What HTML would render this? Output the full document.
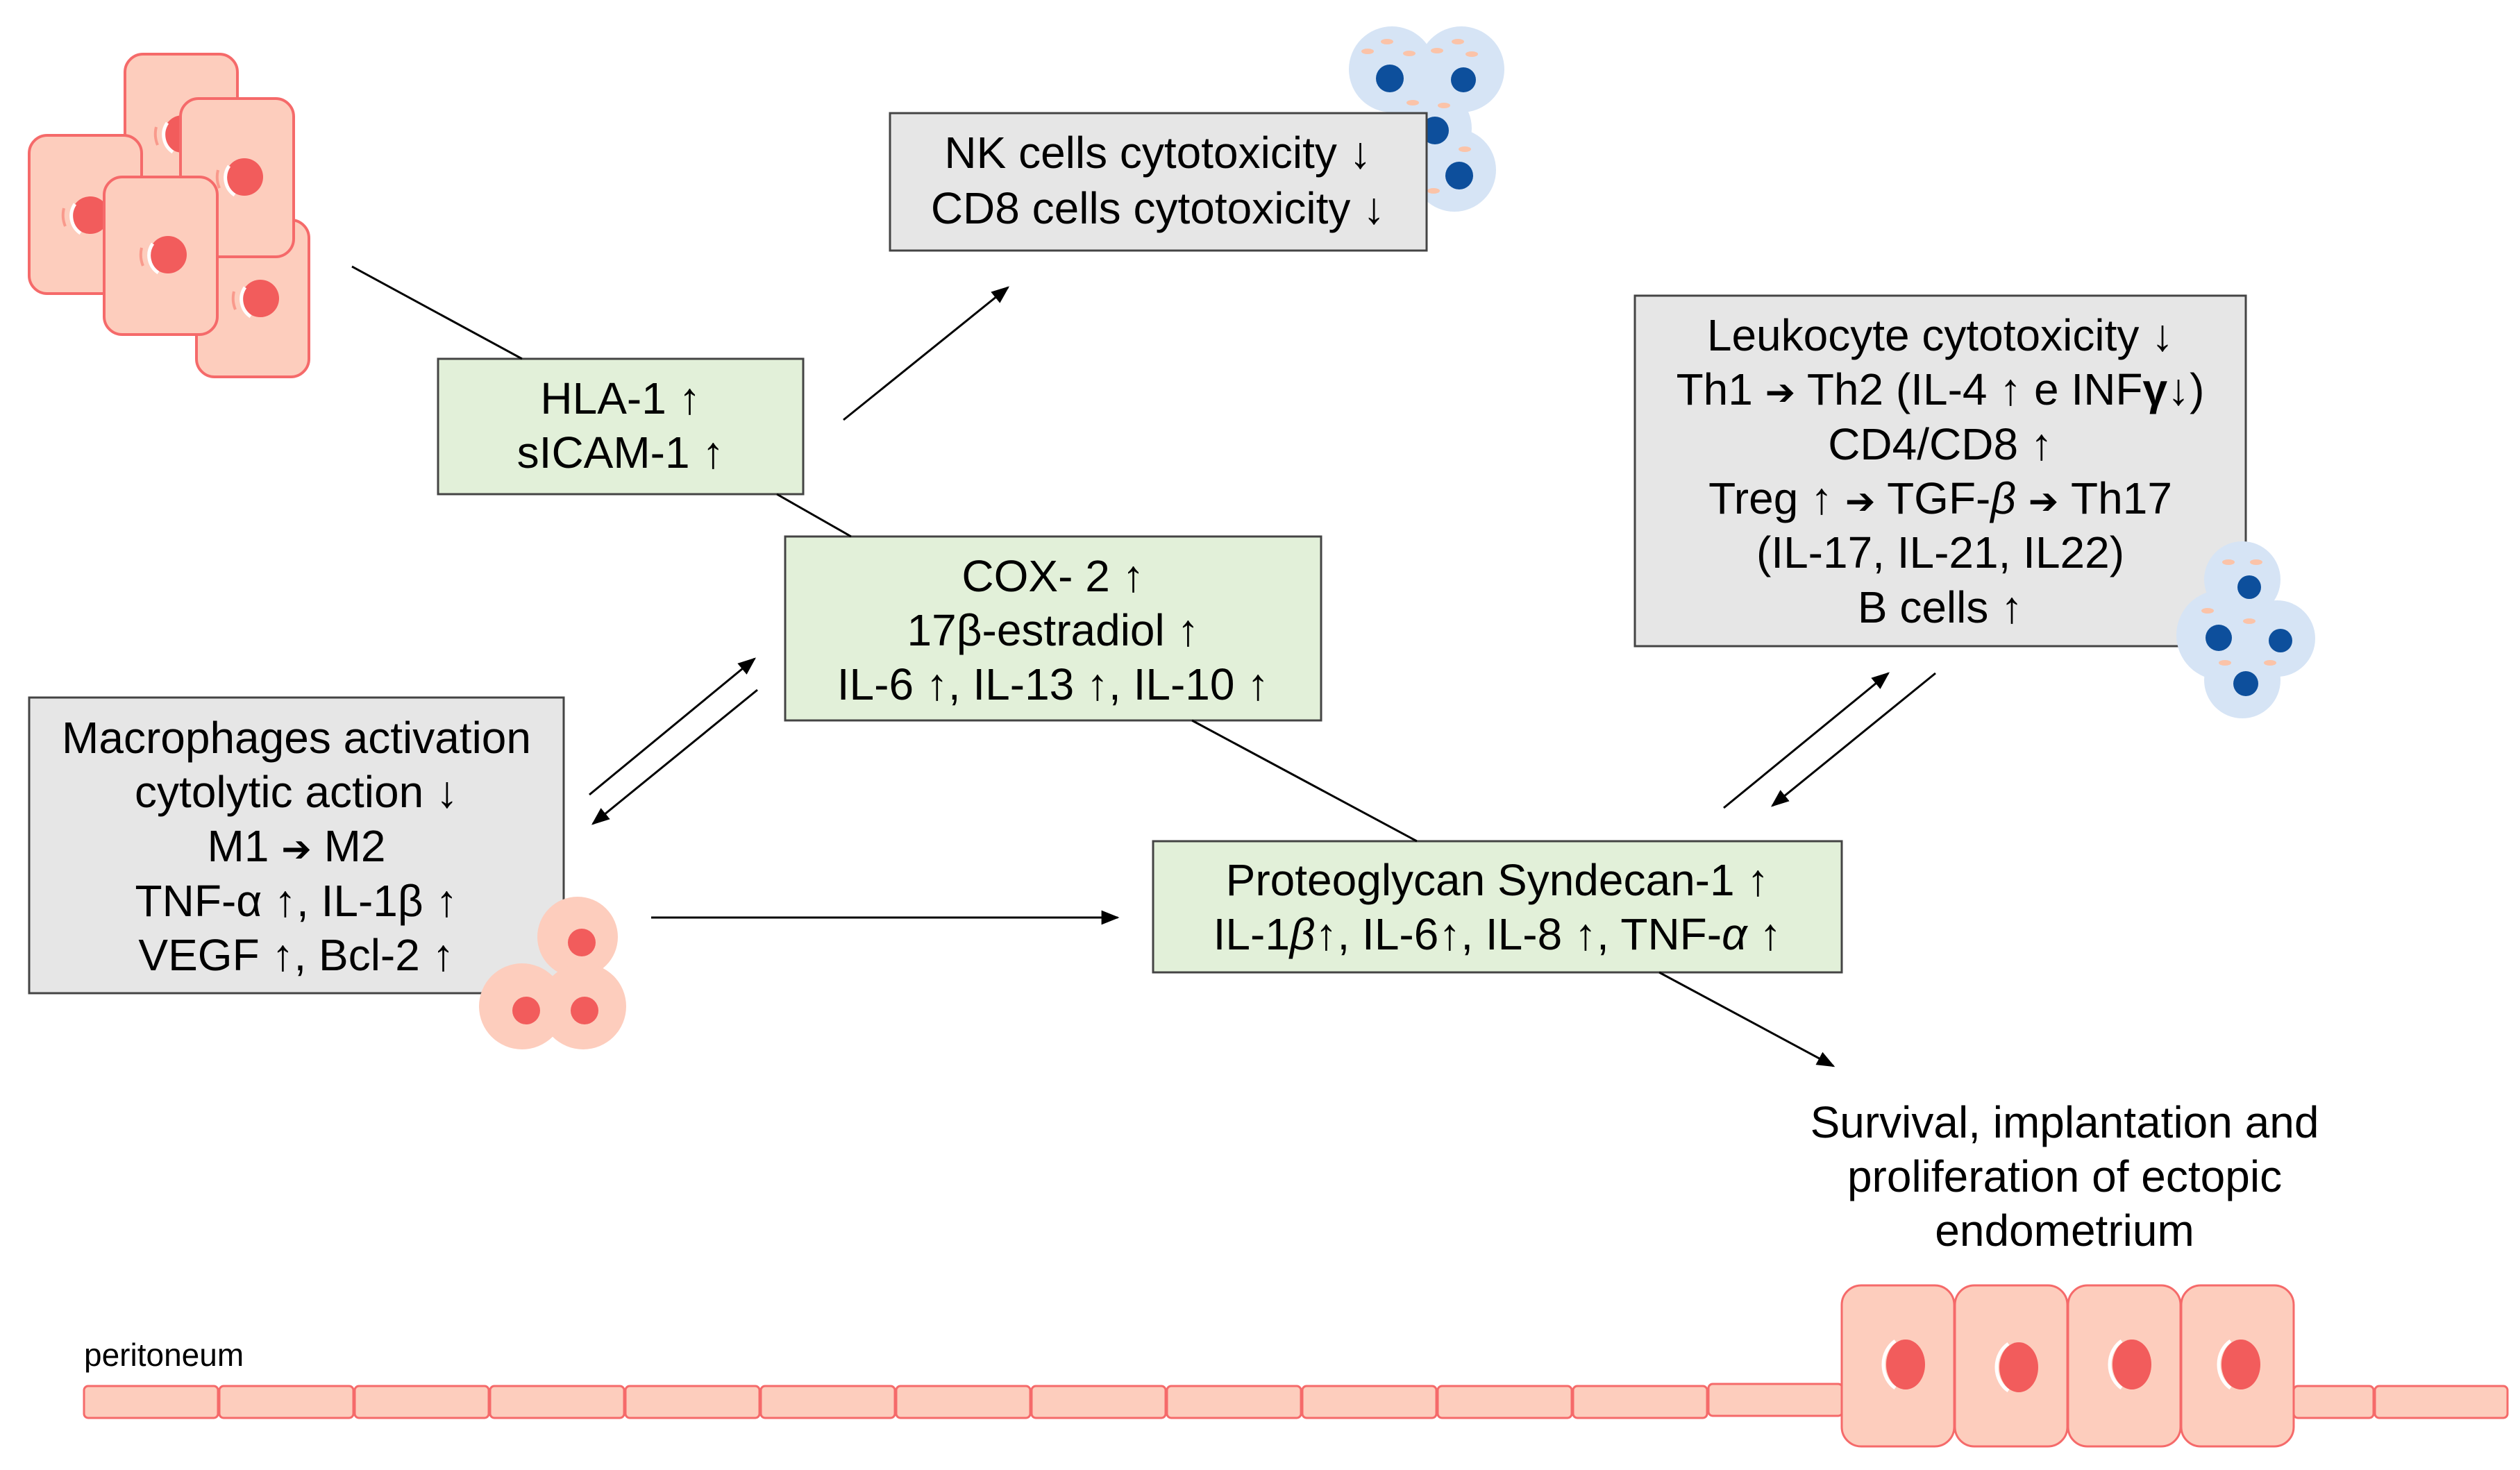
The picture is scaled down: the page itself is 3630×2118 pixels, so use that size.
<!DOCTYPE html>
<html><head><meta charset="utf-8"><style>
html,body{margin:0;padding:0;background:#fff}
svg{display:block}
text{font-family:"Liberation Sans",sans-serif;fill:#000}
.ar{font-family:"DejaVu Sans",sans-serif;font-size:52px}
</style></head><body>
<svg width="3630" height="2118" viewBox="0 0 3630 2118" xmlns="http://www.w3.org/2000/svg">
<defs>
<marker id="a" viewBox="0 0 10 10" refX="9" refY="5" markerWidth="26" markerHeight="26" markerUnits="userSpaceOnUse" orient="auto"><path d="M0,1 L10,5 L0,9 z" fill="#000"/></marker>
<g id="pc">
<circle r="27" fill="#f25c5c"/>
<path d="M-22,-16 A30,30 0 0 0 -14,26" stroke="#fff" stroke-width="5" fill="none"/>
<path d="M-38,-10 A42,42 0 0 0 -36,16" stroke="#f99a8c" stroke-width="4" fill="none"/>
</g>
</defs>

<g fill="#fdcdbd" stroke="#f56a6a" stroke-width="4">
<rect x="180" y="78" width="162" height="265" rx="26"/>
<rect x="42" y="195" width="162" height="228" rx="26"/>
<rect x="283" y="317" width="162" height="226" rx="26"/>
</g>
<use href="#pc" x="263" y="193"/><use href="#pc" x="130" y="310"/><use href="#pc" x="375" y="430"/>
<rect x="260" y="142" width="163" height="228" rx="26" fill="#fdcdbd" stroke="#f56a6a" stroke-width="4"/>
<use href="#pc" x="352" y="255"/>
<rect x="150" y="255" width="163" height="227" rx="26" fill="#fdcdbd" stroke="#f56a6a" stroke-width="4"/>
<use href="#pc" x="242" y="367"/>

<g fill="#d6e4f5">
<circle cx="2005" cy="100" r="62"/><circle cx="2105" cy="100" r="62"/>
<circle cx="2060" cy="185" r="60"/><circle cx="2095" cy="245" r="60"/>
</g>
<g fill="#0d4f9c"><circle cx="2002" cy="113" r="20"/><circle cx="2108" cy="115" r="18"/><circle cx="2067" cy="188" r="20"/><circle cx="2102" cy="253" r="20"/></g>
<g fill="#fbc3a8"><ellipse cx="1998" cy="60" rx="9" ry="4"/><ellipse cx="1970" cy="74" rx="9" ry="4"/><ellipse cx="2030" cy="77" rx="9" ry="4"/><ellipse cx="2100" cy="60" rx="9" ry="4"/><ellipse cx="2070" cy="73" rx="9" ry="4"/><ellipse cx="2120" cy="78" rx="9" ry="4"/><ellipse cx="2035" cy="148" rx="9" ry="4"/><ellipse cx="2080" cy="152" rx="9" ry="4"/><ellipse cx="2025" cy="175" rx="9" ry="4"/><ellipse cx="2110" cy="215" rx="9" ry="4"/><ellipse cx="2065" cy="275" rx="9" ry="4"/></g>

<rect x="1282" y="163" width="773" height="198" fill="#e6e6e6" stroke="#444" stroke-width="3"/>
<g font-size="64" text-anchor="middle">
<text x="1668" y="242">NK cells cytotoxicity ↓</text>
<text x="1668" y="322">CD8 cells cytotoxicity ↓</text>
</g>

<rect x="631" y="517" width="526" height="195" fill="#e2f0d9" stroke="#444" stroke-width="3"/>
<g font-size="64" text-anchor="middle">
<text x="894" y="596">HLA-1 ↑</text>
<text x="894" y="674">sICAM-1 ↑</text>
</g>

<rect x="1131" y="773" width="772" height="265" fill="#e2f0d9" stroke="#444" stroke-width="3"/>
<g font-size="64" text-anchor="middle">
<text x="1517" y="852">COX- 2 ↑</text>
<text x="1517" y="930">17β-estradiol ↑</text>
<text x="1517" y="1008">IL-6 ↑, IL-13 ↑, IL-10 ↑</text>
</g>

<rect x="42" y="1005" width="770" height="426" fill="#e6e6e6" stroke="#444" stroke-width="3"/>
<g font-size="64" text-anchor="middle">
<text x="427" y="1085">Macrophages activation</text>
<text x="427" y="1163">cytolytic action ↓</text>
<text x="427" y="1241">M1 <tspan class="ar">➔</tspan> M2</text>
<text x="427" y="1320">TNF-α ↑, IL-1β ↑</text>
<text x="427" y="1398">VEGF ↑, Bcl-2 ↑</text>
</g>

<rect x="2355" y="426" width="880" height="505" fill="#e6e6e6" stroke="#444" stroke-width="3"/>
<g font-size="64" text-anchor="middle">
<text x="2795" y="505">Leukocyte cytotoxicity ↓</text>
<text x="2795" y="583">Th1 <tspan class="ar">➔</tspan> Th2 (IL-4 ↑ e INF<tspan font-weight="bold">γ</tspan>↓)</text>
<text x="2795" y="662">CD4/CD8 ↑</text>
<text x="2795" y="740">Treg ↑ <tspan class="ar">➔</tspan> TGF-<tspan font-style="italic">β</tspan> <tspan class="ar">➔</tspan> Th17</text>
<text x="2795" y="818">(IL-17, IL-21, IL22)</text>
<text x="2795" y="897">B cells ↑</text>
</g>

<g fill="#d6e4f5"><circle cx="3230" cy="835" r="55"/><circle cx="3200" cy="915" r="65"/><circle cx="3280" cy="920" r="55"/><circle cx="3230" cy="980" r="55"/></g>
<g fill="#0d4f9c"><circle cx="3240" cy="846" r="17"/><circle cx="3196" cy="919" r="19"/><circle cx="3285" cy="923" r="17"/><circle cx="3235" cy="985" r="18"/></g>
<g fill="#fbc3a8"><ellipse cx="3210" cy="810" rx="9" ry="4"/><ellipse cx="3250" cy="810" rx="9" ry="4"/><ellipse cx="3180" cy="880" rx="9" ry="4"/><ellipse cx="3240" cy="895" rx="9" ry="4"/><ellipse cx="3270" cy="955" rx="9" ry="4"/><ellipse cx="3205" cy="955" rx="9" ry="4"/></g>

<rect x="1661" y="1212" width="992" height="189" fill="#e2f0d9" stroke="#444" stroke-width="3"/>
<g font-size="64" text-anchor="middle">
<text x="2157" y="1290">Proteoglycan Syndecan-1 ↑</text>
<text x="2157" y="1368">IL-1<tspan font-style="italic">β</tspan>↑, IL-6↑, IL-8 ↑, TNF-<tspan font-style="italic">α</tspan> ↑</text>
</g>

<g fill="#fdcdbd"><circle cx="832" cy="1350" r="58"/><circle cx="752" cy="1450" r="62"/><circle cx="840" cy="1450" r="62"/></g>
<circle cx="838" cy="1358" r="20" fill="#f25c5c"/><circle cx="758" cy="1456" r="20" fill="#f25c5c"/><circle cx="842" cy="1456" r="20" fill="#f25c5c"/>

<g stroke="#000" stroke-width="3" fill="none">
<line x1="507" y1="384" x2="752" y2="517"/>
<line x1="1119" y1="712" x2="1226" y2="773"/>
<line x1="1215" y1="605" x2="1452" y2="414" marker-end="url(#a)"/>
<line x1="849" y1="1145" x2="1087" y2="949" marker-end="url(#a)"/>
<line x1="1091" y1="994" x2="854" y2="1187" marker-end="url(#a)"/>
<line x1="1717" y1="1038" x2="2041" y2="1212"/>
<line x1="938" y1="1322" x2="1610" y2="1322" marker-end="url(#a)"/>
<line x1="2483" y1="1164" x2="2720" y2="970" marker-end="url(#a)"/>
<line x1="2788" y1="970" x2="2553" y2="1161" marker-end="url(#a)"/>
<line x1="2390" y1="1401" x2="2641" y2="1536" marker-end="url(#a)"/>
</g>

<g font-size="64" text-anchor="middle">
<text x="2974" y="1639">Survival, implantation and</text>
<text x="2974" y="1717">proliferation of ectopic</text>
<text x="2974" y="1795">endometrium</text>
</g>
<text x="121" y="1968" font-size="46">peritoneum</text>

<g fill="#fdcdbd" stroke="#f56a6a" stroke-width="3">
<rect x="121" y="1997" width="193" height="46" rx="6"/>
<rect x="316" y="1997" width="193" height="46" rx="6"/>
<rect x="511" y="1997" width="193" height="46" rx="6"/>
<rect x="706" y="1997" width="193" height="46" rx="6"/>
<rect x="901" y="1997" width="193" height="46" rx="6"/>
<rect x="1096" y="1997" width="193" height="46" rx="6"/>
<rect x="1291" y="1997" width="193" height="46" rx="6"/>
<rect x="1486" y="1997" width="193" height="46" rx="6"/>
<rect x="1681" y="1997" width="193" height="46" rx="6"/>
<rect x="1876" y="1997" width="193" height="46" rx="6"/>
<rect x="2071" y="1997" width="193" height="46" rx="6"/>
<rect x="2266" y="1997" width="193" height="46" rx="6"/>
<rect x="2461" y="1994" width="193" height="46" rx="6"/>
<rect x="3304" y="1997" width="115" height="46" rx="6"/>
<rect x="3421" y="1997" width="191" height="46" rx="6"/>
<rect x="2653" y="1852" width="162" height="232" rx="28"/>
<rect x="2816" y="1852" width="162" height="232" rx="28"/>
<rect x="2979" y="1852" width="162" height="232" rx="28"/>
<rect x="3142" y="1852" width="162" height="232" rx="28"/>
</g>
<g fill="#f25c5c">
<ellipse cx="2745" cy="1966" rx="28" ry="36"/><ellipse cx="2908" cy="1970" rx="28" ry="36"/>
<ellipse cx="3071" cy="1966" rx="28" ry="36"/><ellipse cx="3228" cy="1966" rx="28" ry="36"/>
</g>
<g stroke="#fff" stroke-width="5" fill="none">
<path d="M2730,1932 A36,40 0 0 0 2730,2000"/><path d="M2893,1936 A36,40 0 0 0 2893,2004"/>
<path d="M3056,1932 A36,40 0 0 0 3056,2000"/><path d="M3213,1932 A36,40 0 0 0 3213,2000"/>
</g>
</svg>
</body></html>
